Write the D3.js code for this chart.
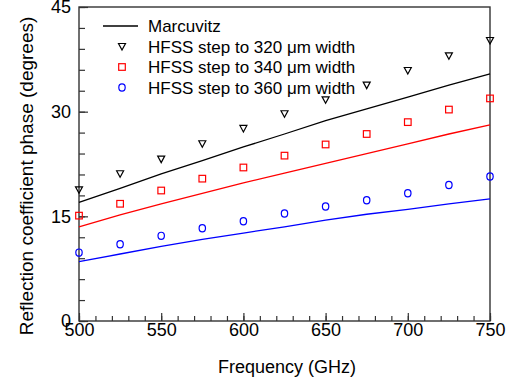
<!DOCTYPE html>
<html>
<head>
<meta charset="utf-8">
<script src="https://cdn.jsdelivr.net/npm/d3@7"></script>
<style>
  body { margin: 0; background: #fff; }
  text { font-family: "Liberation Sans", Arial, sans-serif; fill: #000; }
</style>
</head>
<body>
<div class="contain"></div>
<script>
// frequency points (GHz)
const freqs = [500, 525, 550, 575, 600, 625, 650, 675, 700, 725, 750];

// Marcuvitz model curves
const marc320 = [17.0, 19.0, 21.1, 23.0, 24.95, 26.8, 28.7, 30.4, 32.1, 33.8, 35.4];
const marc340 = [13.5, 15.2, 16.8, 18.3, 19.8, 21.2, 22.6, 24.0, 25.4, 26.8, 28.1];
const marc360 = [8.5, 9.6, 10.7, 11.7, 12.6, 13.5, 14.45, 15.3, 16.0, 16.8, 17.5];

// HFSS simulated points
const hfss320 = [18.8, 21.1, 23.2, 25.4, 27.6, 29.7, 31.7, 33.8, 35.9, 38.0, 40.2];
const hfss340 = [15.1, 16.8, 18.7, 20.4, 22.0, 23.7, 25.3, 26.8, 28.5, 30.3, 31.9];
const hfss360 = [9.8, 11.0, 12.2, 13.3, 14.3, 15.4, 16.4, 17.3, 18.3, 19.5, 20.7];

const xTicks = [500, 550, 600, 650, 700, 750];
const yTicks = [0, 15, 30, 45];

const legendLabels = ["Marcuvitz", "HFSS step to 320 \u03bcm width",
                      "HFSS step to 340 \u03bcm width", "HFSS step to 360 \u03bcm width"];

const svg_width = 518;
const svg_height = 381;
const plot_left = 79, plot_right = 490, plot_top = 7, plot_bottom = 321;
const axisColor = "#333";

let svg = d3.select(".contain").append("svg")
            .attr("width", svg_width).attr("height", svg_height);

let xScale = d3.scaleLinear().domain([500, 750]).range([plot_left, plot_right]);
let yScale = d3.scaleLinear().domain([0, 45]).range([plot_bottom, plot_top]);

// minor ticks
svg.append("g")
   .attr("transform", `translate(0, ${plot_bottom})`)
   .call(d3.axisBottom(xScale).tickValues(d3.range(500, 751, 10)).tickSize(-5).tickFormat(""))
   .call(g => g.select(".domain").remove());
svg.append("g")
   .attr("transform", `translate(${plot_left}, 0)`)
   .call(d3.axisLeft(yScale).tickValues(d3.range(0, 46, 3)).tickSize(-6).tickFormat(""))
   .call(g => g.select(".domain").remove());

// major ticks + labels
svg.append("g")
   .attr("transform", `translate(0, ${plot_bottom})`)
   .call(d3.axisBottom(xScale).tickValues(xTicks).tickSize(-8).tickPadding(2))
   .call(g => g.select(".domain").remove());
svg.append("g")
   .attr("transform", `translate(${plot_left}, 0)`)
   .call(d3.axisLeft(yScale).tickValues(yTicks).tickSize(-9).tickPadding(8))
   .call(g => g.select(".domain").remove());

svg.selectAll(".tick line").attr("stroke", axisColor).attr("stroke-width", 1.2);
svg.selectAll(".tick text").style("font-size", "18px")
   .style("font-family", '"Liberation Sans", Arial, sans-serif').attr("fill", "#000");

// frame
svg.append("rect")
   .attr("x", plot_left).attr("y", plot_top)
   .attr("width", plot_right - plot_left).attr("height", plot_bottom - plot_top)
   .attr("fill", "none").attr("stroke", axisColor).attr("stroke-width", 1.4);

// axis titles
svg.append("text")
   .attr("x", 287).attr("y", 373)
   .attr("text-anchor", "middle").style("font-size", "18px")
   .text("Frequency (GHz)");
svg.append("text")
   .attr("transform", "translate(33, 176) rotate(-90)")
   .attr("text-anchor", "middle").style("font-size", "19px")
   .text("Reflection coefficient phase (degrees)");

let plot = svg.append("g");

let line = d3.line().x((d, i) => xScale(freqs[i])).y(d => yScale(d));

const curves = [[marc320, "#000"], [marc340, "#ff0000"], [marc360, "#0000ff"]];
curves.forEach(([vals, color]) => {
  plot.append("path").datum(vals)
      .attr("d", line)
      .attr("fill", "none").attr("stroke", color).attr("stroke-width", 1.3);
});

// marker shapes
function triangle(sel, cx, cy) {
  sel.append("path")
     .attr("d", `M${cx - 3.5},${cy - 3} L${cx + 3.5},${cy - 3} L${cx},${cy + 3.5} Z`)
     .attr("fill", "none").attr("stroke", "#000").attr("stroke-width", 1.2);
}
function square(sel, cx, cy) {
  sel.append("rect")
     .attr("x", cx - 3.3).attr("y", cy - 3.3).attr("width", 6.6).attr("height", 6.6)
     .attr("fill", "none").attr("stroke", "#ff0000").attr("stroke-width", 1.2);
}
function circle(sel, cx, cy) {
  sel.append("ellipse")
     .attr("cx", cx).attr("cy", cy).attr("rx", 3.2).attr("ry", 3.6)
     .attr("fill", "none").attr("stroke", "#0000ff").attr("stroke-width", 1.2);
}

hfss320.forEach((v, i) => triangle(plot, xScale(freqs[i]), yScale(v)));
hfss340.forEach((v, i) => square(plot, xScale(freqs[i]), yScale(v)));
hfss360.forEach((v, i) => circle(plot, xScale(freqs[i]), yScale(v)));

// legend
let legend = svg.append("g");
const rowY = [26, 46.5, 67, 87.5];
legend.append("line")
      .attr("x1", 103).attr("x2", 138).attr("y1", rowY[0]).attr("y2", rowY[0])
      .attr("stroke", "#000").attr("stroke-width", 1.3);
triangle(legend, 122, rowY[1]);
square(legend, 122, rowY[2]);
circle(legend, 122, rowY[3]);
legendLabels.forEach((t, i) => {
  legend.append("text")
        .attr("x", 148).attr("y", rowY[i] + 6)
        .style("font-size", "17px")
        .text(t);
});
</script>
</body>
</html>
